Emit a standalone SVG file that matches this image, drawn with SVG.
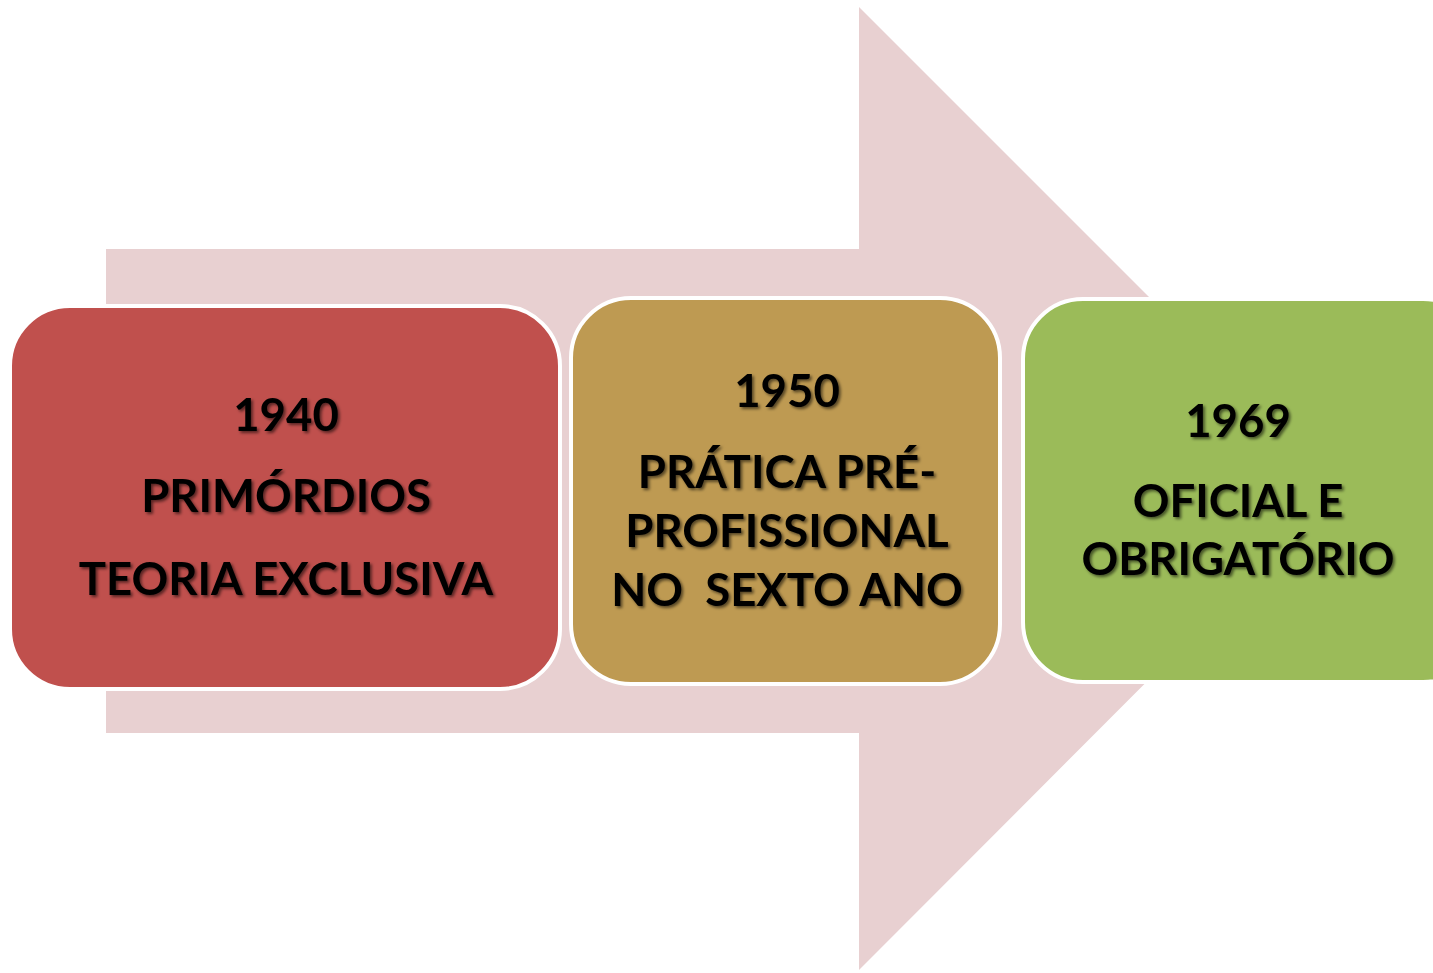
<svg xmlns="http://www.w3.org/2000/svg" width="1433" height="973" viewBox="0 0 1433 973">
<defs>
<filter id="ts" x="-10%" y="-30%" width="120%" height="160%">
<feDropShadow dx="2" dy="2" stdDeviation="1.5" flood-color="#000" flood-opacity="0.55"/>
</filter>
</defs>
<style>
.box{stroke:#fff;stroke-width:4}
.t{font-family:Lato,"Open Sans","Liberation Sans",sans-serif;font-weight:bold;font-size:45.5px;fill:#000;text-anchor:middle;filter:url(#ts)}
</style>
<rect width="1433" height="973" fill="#fff"/>
<g id="connectors">
<polygon points="106,249 859,249 859,7 1340,488 859,970 859,733 106,733" fill="#E8D0D1"/>
</g>
<g id="n1940">
<rect class="box" x="10" y="306" width="550" height="383" rx="60" fill="#C0504D"/>
<text class="t" x="286" y="431">1940</text>
<text class="t" x="286" y="512">PRIMÓRDIOS</text>
<text class="t" x="286" y="595">TEORIA EXCLUSIVA</text>
</g>
<g id="n1950">
<rect class="box" x="571" y="298" width="429" height="386" rx="60" fill="#BE9A52"/>
<text class="t" x="787" y="407">1950</text>
<text class="t" x="787" y="488">PRÁTICA PRÉ-</text>
<text class="t" x="787" y="547">PROFISSIONAL</text>
<text class="t" x="787" y="606" xml:space="preserve">NO  SEXTO ANO</text>
</g>
<g id="n1969">
<rect class="box" x="1023" y="299" width="460" height="383" rx="60" fill="#9BBB59"/>
<text class="t" x="1238" y="437">1969</text>
<text class="t" x="1238" y="517">OFICIAL E</text>
<text class="t" x="1238" y="575">OBRIGATÓRIO</text>
</g>
</svg>
